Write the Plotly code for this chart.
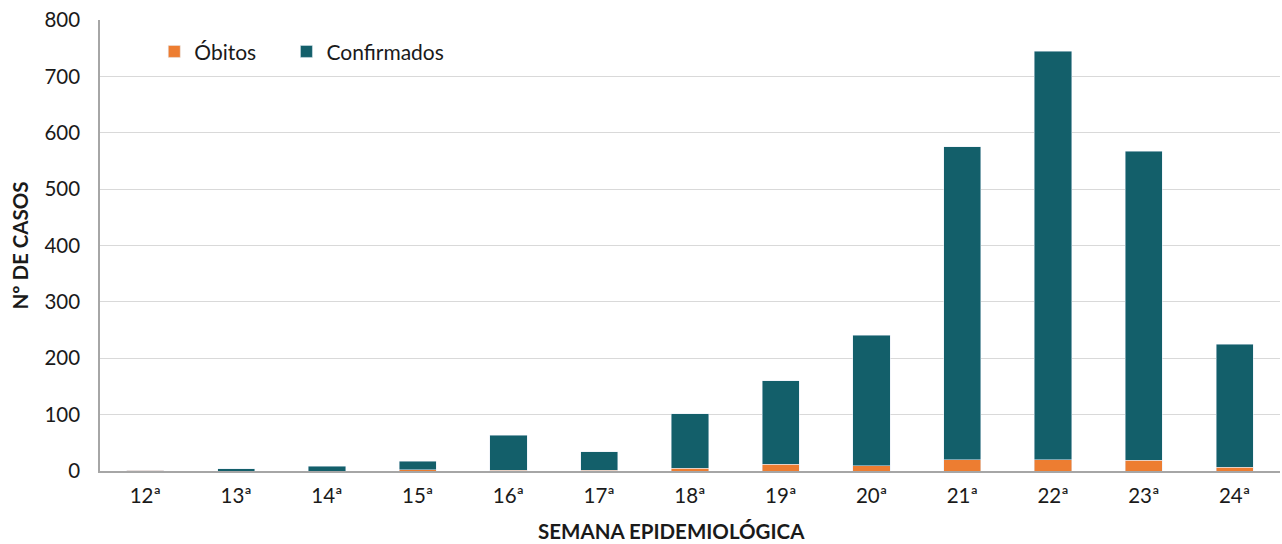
import plotly.graph_objects as go

semanas = ["12ª", "13ª", "14ª", "15ª", "16ª", "17ª", "18ª", "19ª", "20ª", "21ª", "22ª", "23ª", "24ª"]
obitos = [1, 0, 0, 2, 1, 1, 5, 12, 9, 20, 20, 19, 7]
confirmados = [0, 4, 8, 15, 62, 33, 97, 148, 232, 555, 725, 548, 218]

FONT = "Lato, Open Sans, sans-serif"

fig = go.Figure()
fig.add_trace(go.Bar(x=semanas, y=obitos, name="Óbitos", marker=dict(color="#ED7D31"), legend="legend"))
fig.add_trace(go.Bar(x=semanas, y=confirmados, name="Confirmados", marker=dict(color="#135F6A"), legend="legend2"))

leg_common = dict(orientation="h", y=0.975, xanchor="left", yanchor="top",
                  font=dict(size=21, family=FONT), itemwidth=30, bgcolor="rgba(0,0,0,0)")

fig.update_layout(
    barmode="stack",
    bargap=0.59,
    width=1282, height=544,
    margin=dict(l=100, r=2, t=20, b=73),
    plot_bgcolor="white", paper_bgcolor="white",
    font=dict(family=FONT, size=20.5, color="#1a1a1a"),
    legend=dict(x=0.046, **leg_common),
    legend2=dict(x=0.158, **leg_common),
    showlegend=True,
    annotations=[dict(text="<b>SEMANA EPIDEMIOLÓGICA</b>", xref="paper", yref="paper",
                      x=0.484, y=-0.132, xanchor="center", yanchor="middle",
                      showarrow=False, font=dict(size=20.5, family=FONT))],
)
fig.update_yaxes(range=[0, 800], dtick=100, showgrid=True, gridcolor="#D9D9D9", gridwidth=1,
                 showline=True, linecolor="#A6A6A6", linewidth=1.5,
                 ticks="outside", ticklen=14, tickcolor="rgba(0,0,0,0)",
                 zeroline=False,
                 title=dict(text="<b>Nº DE CASOS</b>", font=dict(size=20.5, family=FONT), standoff=10))
fig.update_xaxes(showline=True, linecolor="#A6A6A6", linewidth=2,
                 ticks="outside", ticklen=5, tickcolor="rgba(0,0,0,0)")

fig.write_html("out.html", config={"displayModeBar": False})
with open("out.html", encoding="utf-8") as f:
    html = f.read()
html = html.replace("<head>", "<head><style>html,body{margin:0;padding:0;overflow:hidden}</style>", 1)
with open("out.html", "w", encoding="utf-8") as f:
    f.write(html)
